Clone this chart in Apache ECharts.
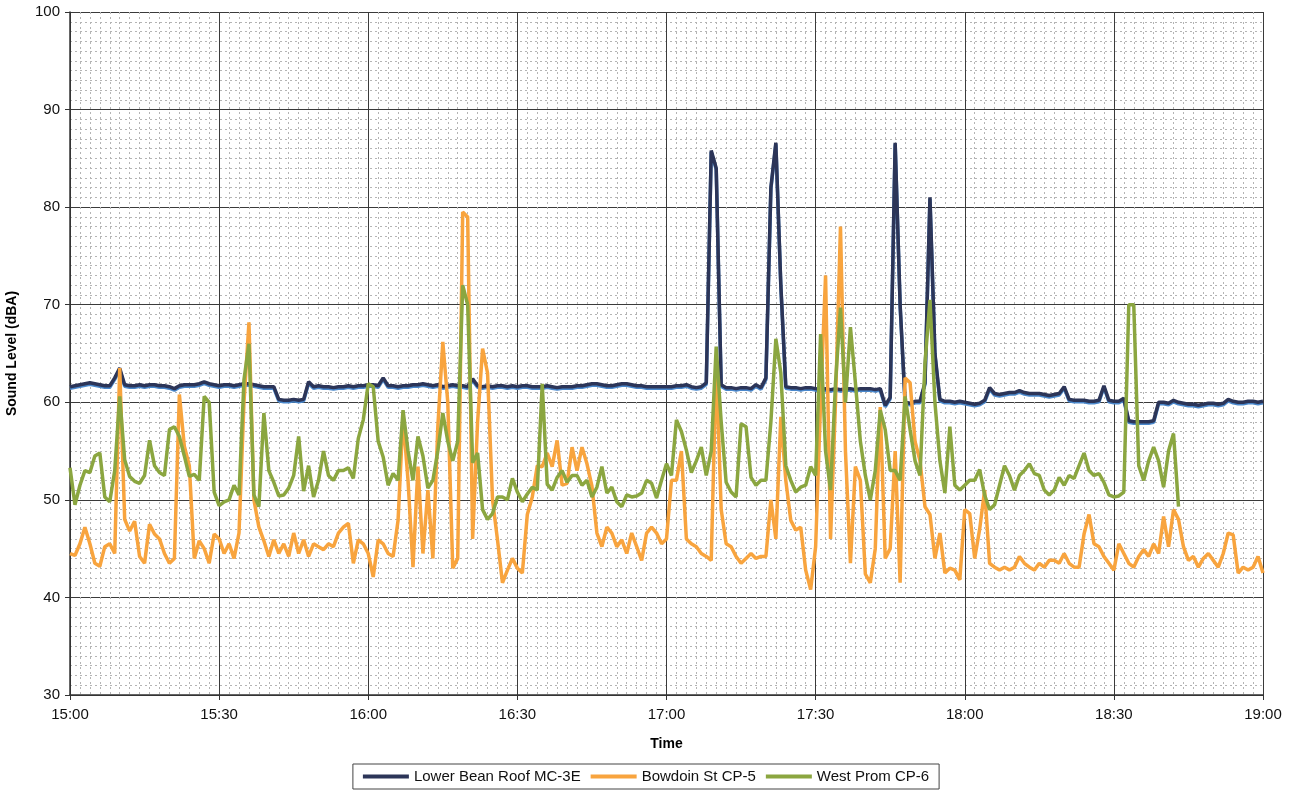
<!DOCTYPE html>
<html>
<head>
<meta charset="utf-8">
<title>Sound Level vs Time</title>
<script src="https://cdn.jsdelivr.net/npm/echarts@6/dist/echarts.min.js"></script>
<style>
  html, body { margin: 0; padding: 0; background: #ffffff; }
  #chart { width: 1292px; height: 793px; }
</style>
</head>
<body>
<div id="chart"></div>
<script>
// One reading per minute, starting at 15:00.
const tickLabels = ['15:00', '15:30', '16:00', '16:30', '17:00', '17:30', '18:00', '18:30', '19:00'];

const seriesNames = ['Lower Bean Roof MC-3E', 'Bowdoin St CP-5', 'West Prom CP-6'];

const lowerBeanRoof = [
  61.6,61.7,61.8,61.9,62.0,61.9,61.8,61.7,61.7,62.5,
  63.5,61.8,61.7,61.7,61.8,61.7,61.8,61.8,61.7,61.7,
  61.6,61.4,61.7,61.8,61.8,61.8,61.9,62.1,61.9,61.8,
  61.7,61.8,61.8,61.7,61.8,61.9,61.9,61.8,61.7,61.6,
  61.6,61.6,60.3,60.2,60.2,60.3,60.2,60.3,62.1,61.6,
  61.7,61.6,61.6,61.5,61.6,61.6,61.7,61.6,61.7,61.7,
  61.8,61.8,61.7,62.5,61.7,61.7,61.6,61.7,61.7,61.8,
  61.8,61.9,61.8,61.7,61.8,61.6,61.7,61.8,61.7,61.7,
  61.6,62.4,61.7,61.6,61.7,61.6,61.7,61.7,61.6,61.7,
  61.6,61.7,61.7,61.6,61.6,61.6,61.7,61.6,61.5,61.6,
  61.6,61.6,61.7,61.7,61.8,61.9,61.9,61.8,61.7,61.7,
  61.8,61.9,61.9,61.8,61.7,61.7,61.6,61.6,61.6,61.6,
  61.6,61.6,61.7,61.7,61.8,61.6,61.5,61.6,62.0,85.8,
  84.0,61.8,61.5,61.5,61.4,61.5,61.5,61.4,61.8,61.5,
  62.5,82.0,86.6,72.0,61.6,61.5,61.5,61.4,61.5,61.5,
  61.4,61.3,61.4,61.3,61.4,61.3,61.4,61.4,61.3,61.4,
  61.4,61.4,61.3,61.4,59.7,60.5,86.6,70.0,60.0,59.9,
  60.1,60.1,62.0,81.0,65.0,60.3,60.1,60.1,60.0,60.1,
  60.0,59.9,59.8,59.9,60.2,61.5,60.9,60.8,60.9,61.0,
  61.0,61.2,61.0,60.9,60.9,60.9,60.8,60.7,60.8,60.9,
  61.6,60.3,60.2,60.2,60.2,60.1,60.1,60.2,61.7,60.2,
  60.1,60.1,60.4,58.1,58.0,58.0,58.0,58.0,58.1,60.0,
  60.0,59.9,60.2,60.0,59.9,59.8,59.8,59.7,59.8,59.9,
  59.9,59.8,59.9,60.3,60.1,60.0,60.0,60.1,60.1,60.0,
  60.1
];

const bowdoinSt = [
  44.5,44.3,45.5,47.2,45.5,43.5,43.2,45.2,45.5,44.5,
  63.5,48.0,46.8,47.8,44.2,43.5,47.5,46.5,46.0,44.5,
  43.5,44.0,60.8,55.5,53.5,44.0,45.8,45.0,43.5,46.5,
  46.0,44.5,45.5,44.0,46.6,60.0,68.2,50.0,47.2,45.8,
  44.2,45.9,44.5,45.5,44.2,46.6,44.5,45.9,44.2,45.5,
  45.2,44.9,45.5,45.2,46.6,47.2,47.6,43.5,45.9,45.5,
  44.5,42.1,45.9,45.5,44.5,44.2,47.9,58.5,52.0,43.1,
  53.4,44.5,51.0,44.0,57.5,66.2,60.0,43.0,44.0,79.5,
  79.0,46.0,58.0,65.5,63.0,50.0,45.9,41.5,42.8,44.0,
  43.0,42.5,48.5,50.3,53.5,53.4,54.8,53.4,56.1,51.5,
  51.7,55.4,53.0,55.4,53.7,51.4,46.6,45.2,47.2,46.6,
  45.2,45.9,44.5,46.6,45.2,43.8,46.6,47.2,46.6,45.5,
  46.0,52.0,52.0,55.0,46.0,45.5,45.2,44.5,44.2,43.8,
  64.0,49.0,45.5,45.2,44.2,43.5,44.0,44.5,44.0,44.2,
  44.2,50.0,46.0,58.5,52.0,47.9,46.9,47.2,42.8,40.8,
  45.2,60.0,73.0,46.0,60.0,78.0,55.0,43.5,53.4,52.0,
  42.4,41.5,45.0,59.5,44.0,45.0,55.0,41.5,62.5,62.0,
  56.0,54.0,49.3,48.5,44.0,46.6,42.5,43.0,42.8,41.8,
  49.0,48.6,44.0,47.0,51.0,43.5,43.1,42.8,43.1,42.8,
  43.1,44.2,43.5,43.1,42.8,43.5,43.1,43.8,43.8,43.5,
  44.5,43.5,43.1,43.1,46.5,48.5,45.5,45.2,44.2,43.5,
  42.8,45.5,44.5,43.5,43.1,44.2,44.9,44.2,45.5,44.5,
  48.3,45.2,49.0,48.0,45.2,43.8,44.2,43.1,44.0,44.5,
  43.8,43.1,44.5,46.6,46.4,42.5,43.1,42.8,43.1,44.2,
  42.5
];

const westProm = [
  53.3,49.5,51.5,53.0,52.8,54.5,54.8,50.3,49.8,53.0,
  60.6,54.1,52.4,51.9,51.7,52.5,56.1,53.5,52.8,52.5,
  57.2,57.5,56.5,54.5,52.4,52.6,52.0,60.6,60.0,50.8,
  49.4,49.8,50.0,51.5,50.5,62.3,66.0,50.5,49.3,58.9,
  53.0,51.8,50.4,50.5,51.2,52.5,56.5,50.9,53.5,50.3,
  52.0,55.0,52.5,52.0,53.0,53.0,53.3,52.2,56.3,58.2,
  61.9,61.6,56.0,54.4,51.5,52.7,52.0,59.2,55.0,52.0,
  56.5,54.5,51.2,52.0,55.0,58.9,56.0,54.0,56.0,72.0,
  70.0,53.8,54.8,49.0,48.0,48.6,50.3,50.3,50.0,52.2,
  50.8,49.8,50.6,51.3,51.0,61.9,51.6,51.0,52.3,53.0,
  51.8,52.5,52.5,51.5,52.0,50.3,51.3,53.4,50.7,51.3,
  49.8,49.3,50.5,50.3,50.4,50.7,52.0,51.7,50.2,52.0,
  53.7,52.5,58.2,57.0,55.1,52.8,54.0,55.4,52.5,55.0,
  65.7,58.0,51.8,50.8,50.3,57.8,57.5,52.3,51.5,52.0,
  52.0,58.0,66.5,63.0,53.5,52.0,50.8,51.3,51.5,53.4,
  52.5,67.0,55.0,51.0,62.0,69.7,60.0,67.7,62.0,56.0,
  52.5,50.0,53.0,59.2,57.2,53.0,53.0,52.0,60.6,57.2,
  54.0,52.5,64.0,70.5,60.0,54.0,50.7,57.5,51.5,51.0,
  51.5,52.0,52.0,53.1,50.5,49.0,49.5,51.5,53.5,52.5,
  51.0,52.5,53.0,53.7,52.7,52.5,51.0,50.5,51.0,52.3,
  51.5,52.5,52.2,53.5,54.8,53.0,52.5,52.7,51.8,50.5,
  50.3,50.4,50.8,70.0,70.0,53.5,52.0,54.0,55.4,54.0,
  51.3,55.0,56.8,49.3
];

const colors = ['#2c3558', '#f8a43e', '#8ba640'];

// Pair each reading with its minute offset from 15:00
function toPoints(values) {
  return values.map((v, i) => [i, v]);
}

const FONT = '"Liberation Sans", Arial, sans-serif';

// Legend swatch: a thick horizontal bar, like a short piece of the line
const LINE_ICON = 'path://M0,0 L46,0 L46,4 L0,4 Z';

const chart = echarts.init(document.getElementById('chart'), null, { renderer: 'canvas' });

chart.setOption({
  animation: false,
  backgroundColor: '#ffffff',
  grid: { left: 70, right: 29, top: 12, bottom: 98, containLabel: false, outerBoundsMode: 'none' },
  xAxis: {
    type: 'value',
    min: 0,
    max: 240,
    interval: 30,
    name: 'Time',
    nameLocation: 'middle',
    nameGap: 42,
    nameTextStyle: { fontFamily: FONT, fontSize: 14, fontWeight: 'bold', color: '#000' },
    axisLine: { show: true, lineStyle: { color: '#333', width: 1.5 } },
    axisTick: { show: true, length: 5, inside: false, lineStyle: { color: '#333' } },
    axisLabel: {
      fontFamily: FONT, fontSize: 15, color: '#111', margin: 12,
      formatter: (v) => tickLabels[Math.round(v / 30)]
    },
    splitLine: { show: true, lineStyle: { color: '#3a3a3a', width: 1 } },
    minorTick: { show: true, splitNumber: 15, length: 0 },
    minorSplitLine: { show: true, lineStyle: { color: '#b4b4b4', width: 1, type: [2, 3] } }
  },
  yAxis: {
    type: 'value',
    min: 30,
    max: 100,
    interval: 10,
    name: 'Sound Level (dBA)',
    nameLocation: 'middle',
    nameGap: 51,
    nameTextStyle: { fontFamily: FONT, fontSize: 14, fontWeight: 'bold', color: '#000' },
    axisLine: { show: true, lineStyle: { color: '#333', width: 1.5 } },
    axisTick: { show: true, length: 5, lineStyle: { color: '#333' } },
    axisLabel: { fontFamily: FONT, fontSize: 15, color: '#111', margin: 10 },
    splitLine: { show: true, lineStyle: { color: '#3a3a3a', width: 1 } },
    minorTick: { show: true, splitNumber: 10, length: 0 },
    minorSplitLine: { show: true, lineStyle: { color: '#b4b4b4', width: 1, type: [2, 3] } }
  },
  legend: {
    data: seriesNames.map((n) => ({ name: n, icon: LINE_ICON })),
    left: 'center',
    bottom: 4,
    orient: 'horizontal',
    borderColor: '#444',
    borderWidth: 1,
    borderRadius: 0,
    padding: [5, 10, 5, 10],
    itemGap: 10,
    itemWidth: 46,
    itemHeight: 4,
    textStyle: { fontFamily: FONT, fontSize: 15, color: '#111' }
  },
  series: [
    {
      name: seriesNames[0],
      type: 'line',
      data: toPoints(lowerBeanRoof),
      symbol: 'none',
      z: 2,
      color: colors[0],
      lineStyle: { color: colors[0], width: 3.5, shadowColor: '#4a88cc', shadowOffsetY: 1.5, shadowBlur: 0 }
    },
    {
      name: seriesNames[1],
      type: 'line',
      data: toPoints(bowdoinSt),
      symbol: 'none',
      z: 3,
      color: colors[1],
      lineStyle: { color: colors[1], width: 3.5 }
    },
    {
      name: seriesNames[2],
      type: 'line',
      data: toPoints(westProm),
      symbol: 'none',
      z: 4,
      color: colors[2],
      lineStyle: { color: colors[2], width: 3.5 }
    }
  ]
});
</script>
</body>
</html>
